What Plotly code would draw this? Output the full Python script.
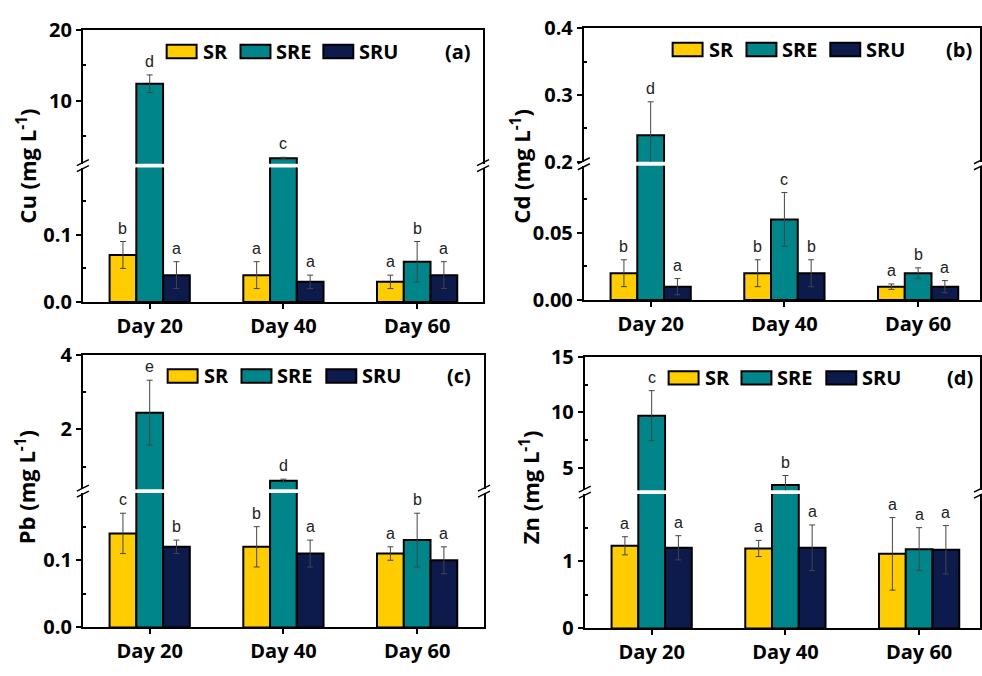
import plotly.graph_objects as go

W, H = 982, 676

# ---------------- data ----------------
days = ["Day 20", "Day 40", "Day 60"]
series = ["SR", "SRE", "SRU"]
colors = ["#FFCC00", "#00868A", "#0C1A4C"]

cu_sr = [0.07, 0.04, 0.03]
cu_sr_err = [0.02, 0.02, 0.01]
cu_sre = [12.4, 1.8, 0.06]
cu_sre_err = [1.25, 0.12, 0.03]
cu_sru = [0.04, 0.03, 0.04]
cu_sru_err = [0.02, 0.01, 0.02]
cu_letters = [["b", "a", "a"], ["d", "c", "b"], ["a", "a", "a"]]

cd_sr = [0.02, 0.02, 0.01]
cd_sr_err = [0.01, 0.01, 0.002]
cd_sre = [0.24, 0.06, 0.02]
cd_sre_err = [0.05, 0.02, 0.004]
cd_sru = [0.01, 0.02, 0.01]
cd_sru_err = [0.006, 0.01, 0.0045]
cd_letters = [["b", "b", "a"], ["d", "c", "b"], ["a", "b", "a"]]

pb_sr = [0.14, 0.12, 0.11]
pb_sr_err = [0.03, 0.03, 0.01]
pb_sre = [2.45, 0.63, 0.13]
pb_sre_err = [0.87, 0.04, 0.04]
pb_sru = [0.12, 0.11, 0.10]
pb_sru_err = [0.01, 0.02, 0.02]
pb_letters = [["c", "b", "a"], ["e", "d", "b"], ["b", "a", "a"]]

zn_sr = [1.23, 1.19, 1.11]
zn_sr_err = [0.135, 0.12, 0.54]
zn_sre = [9.7, 3.46, 1.18]
zn_sre_err = [2.25, 0.86, 0.32]
zn_sru = [1.2, 1.2, 1.17]
zn_sru_err = [0.18, 0.34, 0.36]
zn_letters = [["a", "a", "a"], ["c", "b", "a"], ["a", "a", "a"]]

# ---------------- panel layout (pixels) ----------------
panels = [
    dict(label="(a)", el="Cu", vals=[cu_sr, cu_sre, cu_sru], errs=[cu_sr_err, cu_sre_err, cu_sru_err],
         letters=cu_letters, left=83, right=484, bottom=300, lo_top=160, up_bot=156, top=17,
         lo_range=[0, 0.2], up_range=[1, 20],
         lo_ticks=[0, 0.1], lo_text=["0.0", "0.1"], lo_minor=[0.05, 0.15],
         up_ticks=[10, 20], up_text=["10", "20"], up_minor=[5, 15],
         title_x=27, title_y=158, leg_off=[84, 158, 241]),
    dict(label="(b)", el="Cd", vals=[cd_sr, cd_sre, cd_sru], errs=[cd_sr_err, cd_sre_err, cd_sru_err],
         letters=cd_letters, left=585, right=982, bottom=298, lo_top=158, up_bot=154, top=15,
         lo_range=[0, 0.1], up_range=[0.2, 0.4],
         lo_ticks=[0, 0.05], lo_text=["0.00", "0.05"], lo_minor=[0.025, 0.075],
         up_ticks=[0.2, 0.3, 0.4], up_text=["0.2", "0.3", "0.4"], up_minor=[0.25, 0.35],
         title_x=522, title_y=158, leg_off=[89, 163, 247]),
    dict(label="(c)", el="Pb", vals=[pb_sr, pb_sre, pb_sru], errs=[pb_sr_err, pb_sre_err, pb_sru_err],
         letters=pb_letters, left=83, right=485, bottom=639, lo_top=499, up_bot=495, top=355,
         lo_range=[0, 0.2], up_range=[0.4, 4],
         lo_ticks=[0, 0.1], lo_text=["0.0", "0.1"], lo_minor=[0.05, 0.15],
         up_ticks=[2, 4], up_text=["2", "4"], up_minor=[1, 3],
         title_x=25, title_y=493, leg_off=[85, 159, 244]),
    dict(label="(d)", el="Zn", vals=[zn_sr, zn_sre, zn_sru], errs=[zn_sr_err, zn_sre_err, zn_sru_err],
         letters=zn_letters, left=586, right=982, bottom=640, lo_top=500, up_bot=496, top=357,
         lo_range=[0, 2], up_range=[3, 15],
         lo_ticks=[0, 1], lo_text=["0", "1"], lo_minor=[0.5, 1.5],
         up_ticks=[5, 10, 15], up_text=["5", "10", "15"], up_minor=[7.5, 12.5],
         title_x=530, title_y=493, leg_off=[84, 157, 242]),
]

CAT_PX = 134.0  # pixel spacing of categories


def pxx(p):
    return p / W


def pxy(p):
    return 1 - p / H


def axname(prefix, i):
    return prefix if i == 1 else f"{prefix}{i}"


BOLD = dict(family="Open Sans", size=20, color="black", weight="bold")
LETTER = dict(family="Liberation Sans, Arial", size=16, color="#222")
LW = 2

fig = go.Figure()
layout = dict(width=W, height=H, margin=dict(l=0, r=0, t=0, b=0),
              paper_bgcolor="white", plot_bgcolor="white",
              barmode="group", bargap=0.4, bargroupgap=0, showlegend=False)
annotations = []
shapes = []

for p, P in enumerate(panels):
    lo, up = 2 * p + 1, 2 * p + 2
    xr = [-0.5, -0.5 + (P["right"] - P["left"]) / CAT_PX]
    xdom = [pxx(P["left"]), pxx(P["right"])]
    common_y = dict(showline=True, linecolor="black", linewidth=LW, mirror=True,
                    showgrid=False, zeroline=False, ticks="outside", ticklen=5,
                    tickwidth=LW, tickcolor="black", tickfont=BOLD, fixedrange=True)
    layout[f"xaxis{'' if lo == 1 else lo}"] = dict(
        domain=xdom, range=xr, tickvals=[0, 1, 2], ticktext=days, ticks="outside",
        ticklen=5, tickwidth=LW, tickcolor="black", showline=True, linecolor="black",
        linewidth=LW, showgrid=False, zeroline=False, tickfont=BOLD,
        anchor=axname("y", lo), fixedrange=True)
    layout[f"xaxis{up}"] = dict(
        domain=xdom, range=xr, side="top", showline=True, linecolor="black",
        linewidth=LW, ticks="", showticklabels=False, showgrid=False,
        zeroline=False, anchor=axname("y", up), fixedrange=True)
    layout[f"yaxis{'' if lo == 1 else lo}"] = dict(
        domain=[pxy(P["bottom"]), pxy(P["lo_top"])], range=P["lo_range"],
        tickvals=P["lo_ticks"], ticktext=P["lo_text"],
        minor=dict(tickvals=P["lo_minor"], ticks="inside", ticklen=3,
                   tickwidth=LW, tickcolor="black", showgrid=False),
        anchor=axname("x", lo), **common_y)
    layout[f"yaxis{up}"] = dict(
        domain=[pxy(P["up_bot"]), pxy(P["top"])], range=P["up_range"],
        tickvals=P["up_ticks"], ticktext=P["up_text"],
        minor=dict(tickvals=P["up_minor"], ticks="inside", ticklen=3,
                   tickwidth=LW, tickcolor="black", showgrid=False),
        anchor=axname("x", up), **common_y)

    for k, s in enumerate(series):
        for seg in (lo, up):
            fig.add_trace(go.Bar(
                x=[0, 1, 2], y=P["vals"][k], name=s, offsetgroup=str(k),
                marker=dict(color=colors[k], line=dict(color="black", width=LW)),
                error_y=dict(type="data", array=P["errs"][k], color="#444",
                             thickness=1, width=3),
                xaxis=axname("x", seg), yaxis=axname("y", seg), showlegend=False))
        # significance letters
        for i in range(3):
            topv = P["vals"][k][i] + P["errs"][k][i]
            seg = lo if topv <= P["lo_range"][1] else up
            annotations.append(dict(
                x=i + (k - 1) * 0.2, y=topv, xref=axname("x", seg), yref=axname("y", seg),
                text=P["letters"][k][i], showarrow=False, yanchor="bottom",
                xanchor="center", yshift=3, font=LETTER))

    # y-axis title
    annotations.append(dict(
        x=pxx(P["title_x"]), y=pxy(P["title_y"]), xref="paper", yref="paper",
        text=f"{P['el']} (mg L<sup>-1</sup>)", textangle=-90, showarrow=False,
        xanchor="center", yanchor="middle",
        font=dict(family="Open Sans", size=22, color="black", weight="bold")))

    # legend (manual swatches) and panel label
    ly = P["top"] + 22
    for k, s in enumerate(series):
        x0 = P["left"] + P["leg_off"][k]
        shapes.append(dict(type="rect", xref="paper", yref="paper",
                           x0=pxx(x0), x1=pxx(x0 + 30), y0=pxy(ly + 7), y1=pxy(ly - 7),
                           fillcolor=colors[k], line=dict(color="black", width=LW)))
        annotations.append(dict(x=pxx(x0 + 34), y=pxy(ly), xref="paper", yref="paper",
                                text=s, showarrow=False, xanchor="left", yanchor="middle",
                                font=BOLD))
    annotations.append(dict(x=pxx(P["left"] + 391), y=pxy(ly), xref="paper", yref="paper",
                            text=P["label"], showarrow=False, xanchor="right",
                            yanchor="middle", font=BOLD))

    # axis break marks
    by = (P["lo_top"] + P["up_bot"]) / 2
    for xe in (P["left"], P["right"]):
        shapes.append(dict(type="path", xref="paper", yref="paper",
                           xsizemode="pixel", ysizemode="pixel",
                           xanchor=pxx(xe), yanchor=pxy(by),
                           path="M-6,-6 L6,0 M-6,0 L6,6",
                           line=dict(color="black", width=1.5)))

layout["annotations"] = annotations
layout["shapes"] = shapes
fig.update_layout(**layout)
fig.write_html("out.html")
